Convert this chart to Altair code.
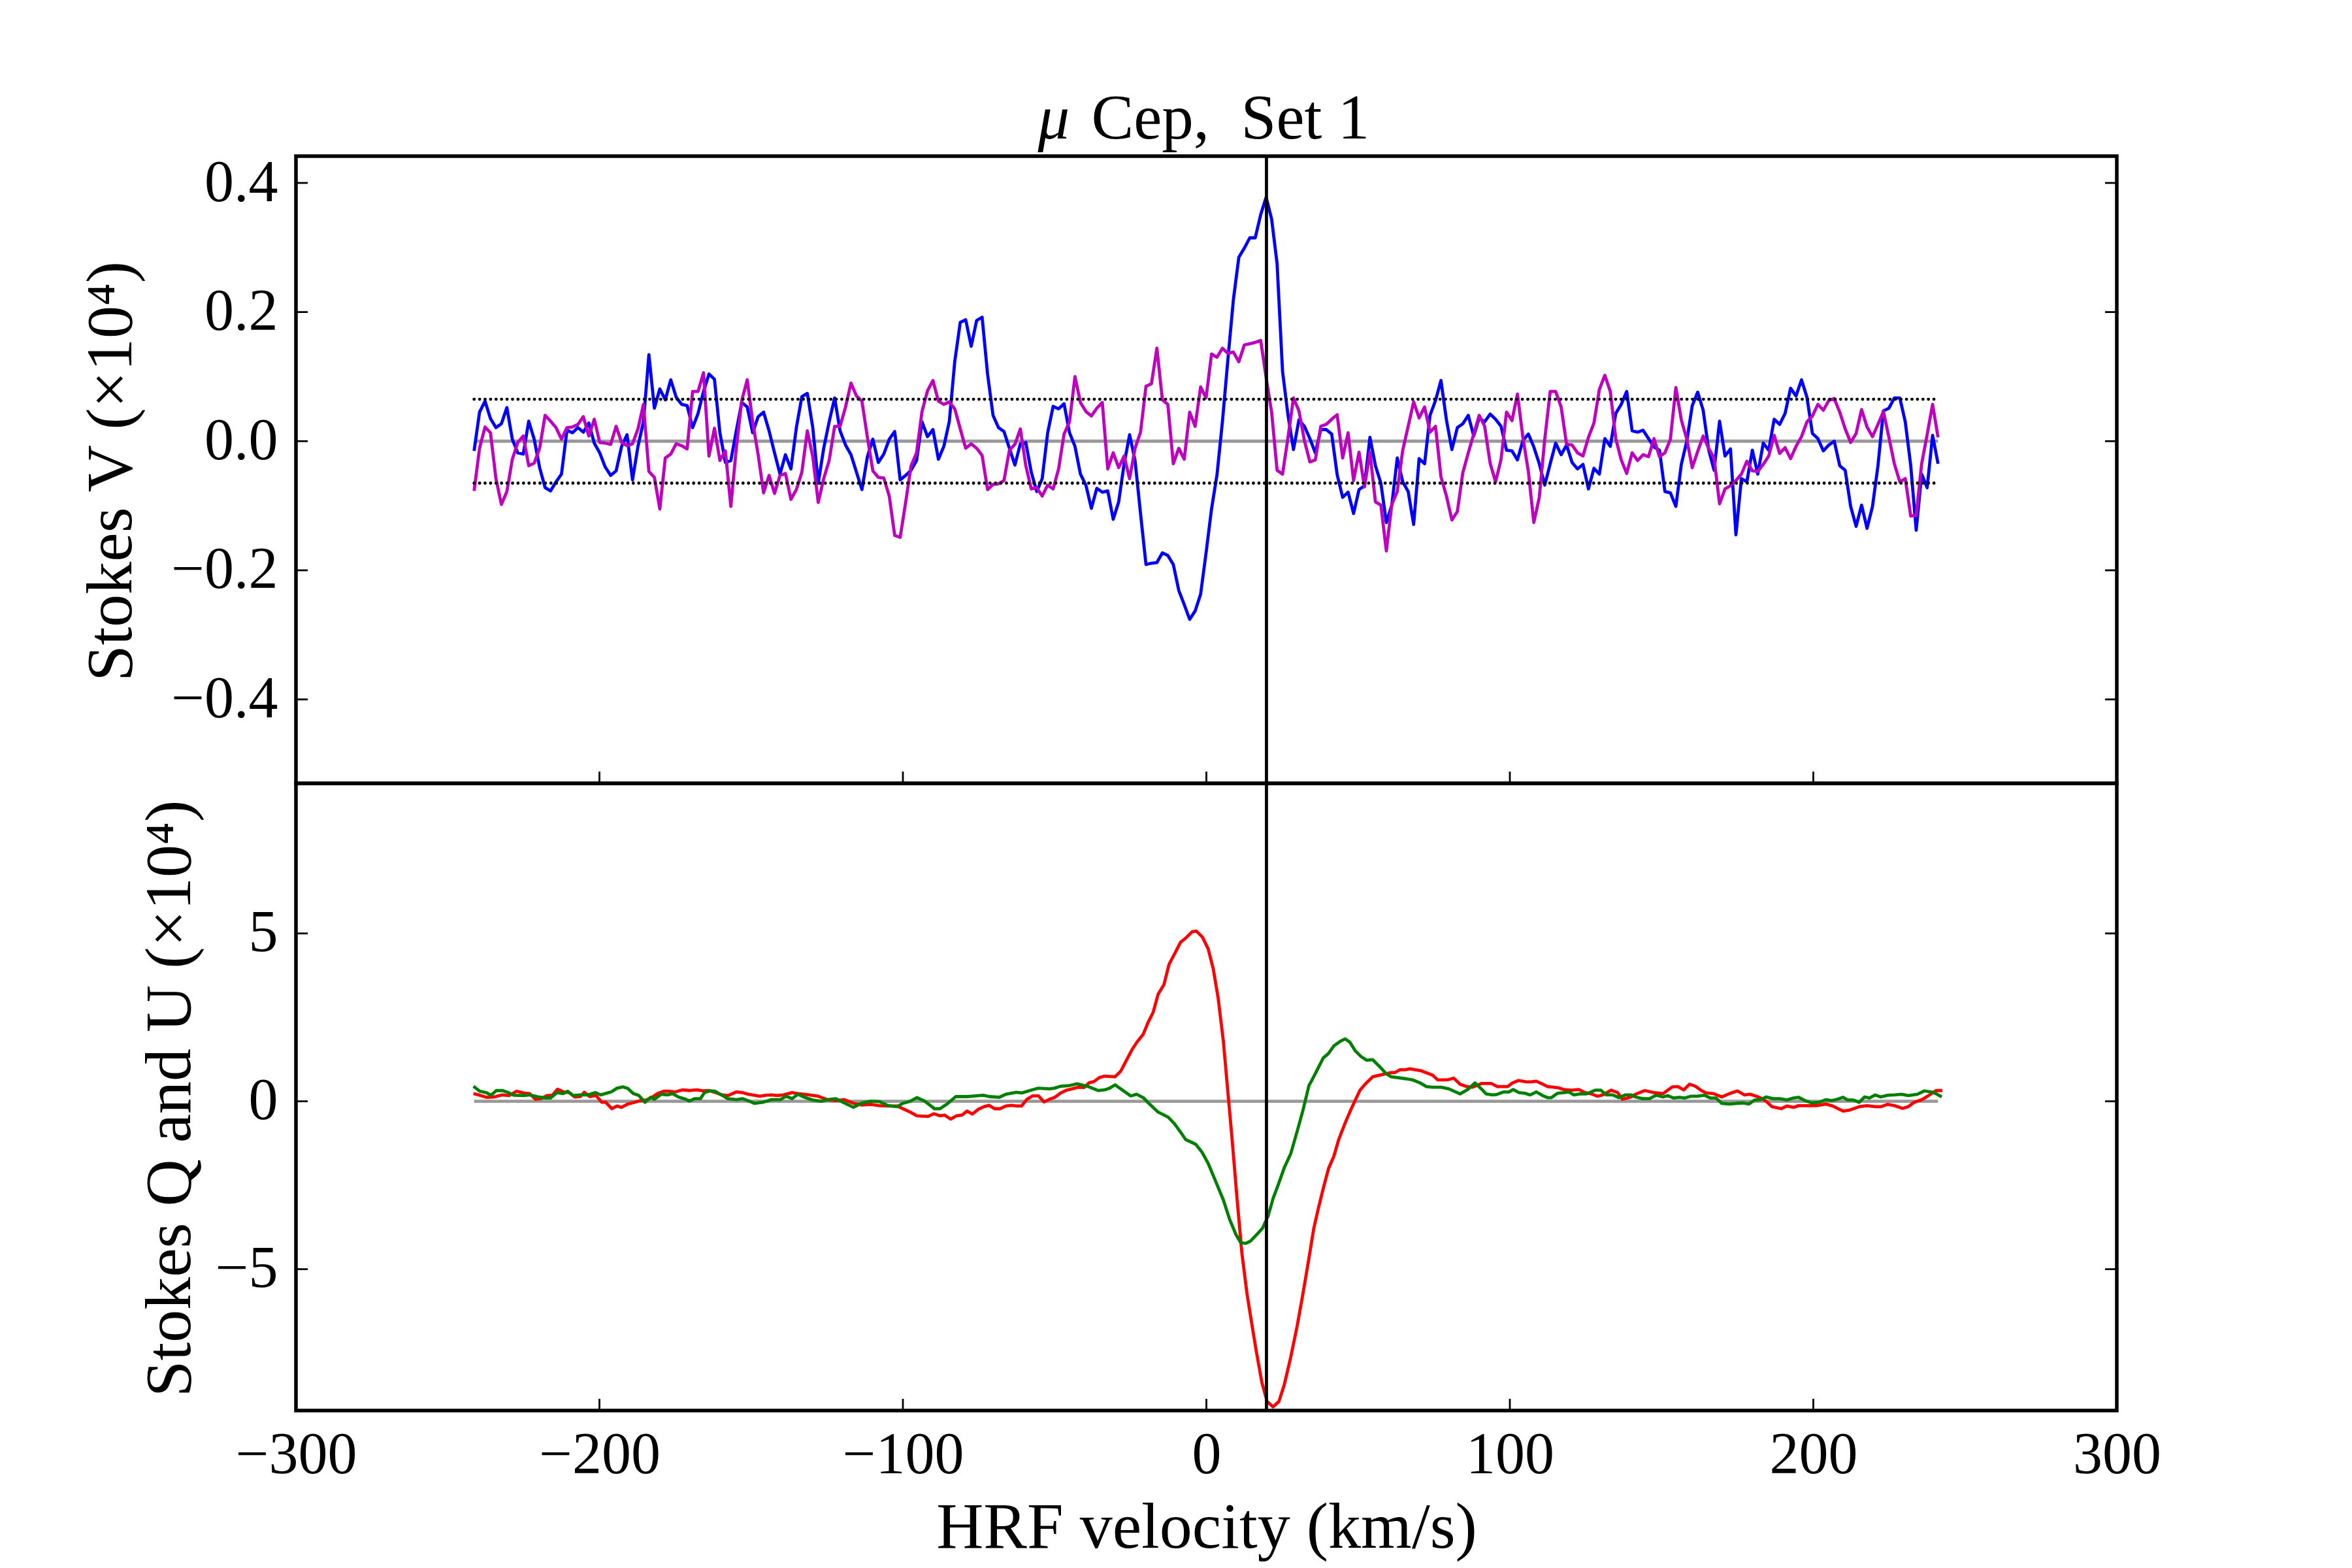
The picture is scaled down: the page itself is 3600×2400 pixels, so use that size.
import altair as alt
import numpy as np
import pandas as pd

# ---------------------------------------------------------------------------
# LSD profiles of mu Cep (Set 1).  Stokes V and the diagnostic null profile
# are sampled on the 1.8 km/s LSD velocity grid; values are in units of 1e-4.
# ---------------------------------------------------------------------------
V_START = -241.3
V_STEP = 1.8

stokes_v = [
    -0.015, 0.045, 0.062, 0.035, 0.021, 0.027, 0.052, 0.003, -0.018, -0.020,
    0.031, 0.003, -0.041, -0.072, -0.077, -0.063, -0.051, 0.017, 0.013, 0.021,
    0.014, 0.028, -0.003, -0.018, -0.040, -0.053, -0.046, -0.008, 0.010, -0.060,
    -0.008, 0.030, 0.134, 0.051, 0.081, 0.064, 0.095, 0.068, 0.057, 0.055,
    0.021, 0.043, 0.077, 0.104, 0.096, 0.013, -0.033, -0.030, 0.016, 0.060,
    0.053, 0.013, 0.038, 0.045, 0.016, -0.018, -0.051, -0.021, -0.043, 0.021,
    0.069, 0.074, 0.021, -0.065, -0.011, 0.030, 0.067, 0.016, -0.006, -0.021,
    -0.048, -0.075, -0.024, 0.003, -0.033, -0.020, 0.003, 0.015, -0.060, -0.053,
    -0.045,
    -0.030, 0.030, 0.007, 0.018, -0.028, -0.008, 0.031, 0.124, 0.184, 0.188,
    0.147, 0.187, 0.192, 0.104, 0.040, 0.021, 0.015, -0.011, -0.037, -0.004,
    -0.002, -0.048, -0.078, -0.058, 0.013, 0.054, 0.050, 0.058, 0.013, -0.008,
    -0.051, -0.068, -0.104, -0.073, -0.079, -0.077, -0.121, -0.094, -0.035, 0.010,
    -0.030, -0.112,
    -0.191, -0.189, -0.188, -0.173, -0.177, -0.191, -0.231, -0.253, -0.276, -0.263,
    -0.237, -0.173, -0.105, -0.052, 0.031, 0.127, 0.219, 0.285, 0.299, 0.315,
    0.315, 0.351, 0.378, 0.344, 0.275, 0.108, 0.040, -0.013, 0.033, 0.023,
    0.004, -0.018, 0.018, 0.018, 0.011, -0.052,
    -0.087, -0.079, -0.112, -0.075, -0.069, 0.006, -0.038, -0.065, -0.126, -0.099,
    -0.026, -0.063, -0.078, -0.129, -0.027, -0.035, 0.040, 0.063, 0.094, 0.033,
    -0.013, 0.021, 0.027, 0.040, 0.008, 0.036, 0.030, 0.042, 0.034, 0.023,
    -0.014, -0.015, -0.029, 0.001, 0.011, -0.009, -0.035, -0.068, -0.035, -0.003,
    -0.021, -0.006, -0.033, -0.043, -0.036, -0.074, -0.042, -0.051, 0.004, -0.008,
    0.043, 0.057, 0.077, 0.016, 0.014, 0.017, 0.004, -0.009, -0.014, -0.078,
    -0.080, -0.101, -0.036, 0.000, 0.055, 0.076, 0.048, -0.013, -0.045, 0.031,
    -0.023, -0.012, -0.145, -0.058, -0.063, -0.014, -0.051, -0.003,
    -0.014, 0.034, 0.026, 0.043, 0.082, 0.070, 0.095, 0.068, 0.012, 0.004,
    -0.015, -0.006, 0.000, -0.038, -0.045, -0.101, -0.132, -0.099, -0.135, -0.101,
    -0.038, 0.047, 0.051, 0.067, 0.067, 0.030, -0.038, -0.138, -0.051, -0.072,
    0.009, -0.035,
]

null_n = [
    -0.077, -0.011, 0.022, 0.013, -0.058, -0.098, -0.078, -0.028, -0.002, 0.008,
    -0.038, -0.034, -0.011, 0.040, 0.031, 0.021, 0.003, 0.021, 0.022, 0.026,
    0.038, 0.008, 0.034, -0.002, -0.003, -0.005, 0.023, -0.002, -0.007, -0.004,
    0.019, 0.057, -0.047, -0.056, -0.105, -0.026, -0.020, -0.004, -0.007, -0.012,
    0.077, 0.077, 0.106, -0.023, 0.020, -0.030, -0.015, -0.101, -0.011, 0.063,
    0.095, 0.030, -0.021, -0.080, -0.053, -0.081, -0.053, -0.050, -0.090, -0.075,
    -0.048, 0.016, -0.024, -0.095, -0.058, -0.030, 0.023, 0.023, 0.053, 0.090,
    0.070, 0.062, 0.006, -0.046, -0.056, -0.057, -0.085, -0.146, -0.149, -0.095,
    -0.038,
    -0.018, 0.046, 0.078, 0.094, 0.062, 0.057, 0.061, 0.050, 0.019, -0.011,
    -0.004, -0.011, -0.022, -0.075, -0.067, -0.066, -0.061, -0.014, -0.005, 0.019,
    -0.038, -0.074, -0.072, -0.085, -0.068, -0.074, -0.043, 0.011, 0.030, 0.100,
    0.060, 0.046, 0.039, 0.051, 0.060, -0.043, -0.018, -0.041, -0.023, -0.058,
    -0.011, 0.014,
    0.085, 0.089, 0.144, 0.064, 0.057, -0.035, -0.011, -0.028, 0.045, 0.023,
    0.084, 0.067, 0.135, 0.130, 0.144, 0.136, 0.138, 0.123, 0.149, 0.151,
    0.153, 0.156, 0.098, 0.045, -0.045, -0.051, 0.006, 0.067, 0.047, 0.001,
    -0.032, -0.029, 0.023, 0.026, 0.034, 0.041,
    -0.026, 0.013, -0.061, -0.017, -0.071, -0.017, -0.094, -0.099, -0.170, -0.098,
    -0.078, -0.014, 0.023, 0.061, 0.036, 0.053, 0.014, 0.023, -0.055, -0.085,
    -0.122, -0.109, -0.049, -0.018, 0.011, 0.040, 0.023, -0.034, -0.063, -0.028,
    0.045, 0.032, 0.073, 0.006, -0.047, -0.126, -0.087, 0.003, 0.077, 0.077,
    0.053, -0.005, -0.006, -0.018, -0.023, 0.006, 0.028, 0.080, 0.102, 0.077,
    0.004, -0.029, -0.050, -0.018, -0.030, -0.021, -0.024, 0.004, -0.024, -0.018,
    0.003, 0.083, 0.033, 0.003, -0.041, -0.016, 0.008, -0.011, -0.026, -0.097,
    -0.074, -0.069, -0.061, -0.051, -0.031, -0.046, -0.047, -0.036,
    -0.023, 0.009, -0.019, -0.010, -0.027, -0.008, 0.007, 0.030, 0.039, 0.057,
    0.048, 0.063, 0.066, 0.045, 0.019, -0.002, 0.012, 0.049, 0.022, 0.007,
    0.026, 0.046, 0.006, -0.035, -0.063, -0.058, -0.116, -0.115, -0.035, 0.010,
    0.057, 0.006,
]

# Stokes Q and U profiles: (velocity km/s, value x1e4)
stokes_q = [
    (-241.5, 0.23), (-239.4, 0.18), (-237.3, 0.12), (-234.6, 0.13), (-232.1, 0.19),
    (-229.8, 0.17), (-227.3, 0.30), (-225.0, 0.25), (-223.0, 0.23), (-221.1, 0.06),
    (-219.2, 0.08), (-217.3, 0.17), (-215.5, 0.18), (-213.8, 0.36), (-211.9, 0.28),
    (-210.0, 0.26), (-208.2, 0.13), (-206.3, 0.14), (-205.0, 0.27), (-203.2, 0.14),
    (-201.1, 0.17), (-199.2, -0.03), (-197.9, -0.03), (-195.9, -0.22), (-194.2, -0.14),
    (-192.7, -0.18), (-190.7, -0.08), (-188.4, -0.03), (-186.5, 0.02), (-184.6, 0.04),
    (-182.7, 0.12), (-180.8, 0.23), (-178.8, 0.30), (-176.9, 0.30), (-175.0, 0.28),
    (-172.7, 0.34), (-170.2, 0.32), (-168.1, 0.34), (-165.8, 0.31), (-163.8, 0.32),
    (-161.5, 0.25), (-159.6, 0.19), (-157.7, 0.17), (-154.8, 0.28), (-152.9, 0.26),
    (-151.0, 0.21), (-149.0, 0.18), (-147.1, 0.15), (-145.2, 0.18), (-143.3, 0.19),
    (-141.4, 0.17), (-139.4, 0.19), (-136.5, 0.26), (-134.6, 0.23), (-130.8, 0.19),
    (-127.9, 0.15), (-125.0, 0.05), (-122.1, 0.02), (-119.3, 0.05), (-116.3, -0.06),
    (-113.5, -0.11), (-110.6, -0.09), (-107.7, -0.13), (-104.8, -0.14), (-101.9, -0.14),
    (-100.0, -0.22), (-97.6, -0.32),
    (-95.4, -0.43), (-91.7, -0.45), (-89.8, -0.37), (-87.8, -0.43), (-86.3, -0.41),
    (-84.2, -0.53), (-82.3, -0.43), (-80.5, -0.41), (-78.9, -0.29), (-77.1, -0.38),
    (-75.2, -0.24), (-73.3, -0.16), (-71.6, -0.12), (-69.8, -0.22), (-68.0, -0.22),
    (-66.1, -0.14), (-64.2, -0.12), (-62.4, -0.14), (-60.9, -0.14), (-59.1, 0.06),
    (-57.3, 0.16), (-55.3, 0.16), (-53.5, -0.02), (-51.7, 0.06), (-49.9, 0.12),
    (-48.0, 0.25), (-46.1, 0.33), (-44.3, 0.37), (-42.2, 0.42), (-40.3, 0.41),
    (-38.7, 0.55), (-37.0, 0.59), (-35.2, 0.71), (-33.6, 0.75), (-30.1, 0.73),
    (-28.2, 0.90), (-26.6, 1.18), (-24.5, 1.54), (-22.9, 1.76), (-20.8, 2.00),
    (-19.2, 2.35), (-17.5, 2.66), (-15.9, 3.19), (-14.0, 3.47), (-12.3, 4.08),
    (-10.5, 4.39), (-8.5, 4.74), (-6.8, 4.86), (-4.7, 5.05), (-3.3, 5.07),
    (-1.3, 4.89), (0.6, 4.54), (2.3, 3.93), (3.9, 3.06), (5.6, 1.79),
    (7.2, 0.16), (8.6, -1.26), (10.1, -2.89), (11.7, -4.52), (13.4, -5.74),
    (15.0, -6.65), (16.5, -7.47), (18.3, -8.38), (20.0, -8.94), (22.0, -9.10),
    (23.9, -8.94), (25.7, -8.43), (27.8, -7.62), (29.9, -6.70), (31.9, -5.69),
    (33.8, -4.67),
    (35.4, -3.78), (37.0, -3.15), (38.7, -2.53), (40.3, -1.99), (42.0, -1.64),
    (43.6, -1.14), (45.7, -0.65), (47.8, -0.21), (50.6, 0.33), (52.3, 0.51),
    (54.8, 0.73), (57.6, 0.79), (60.5, 0.85), (62.2, 0.86), (63.8, 0.94),
    (65.5, 0.94), (67.1, 0.97), (68.8, 0.94), (70.8, 0.91), (72.5, 0.85),
    (74.5, 0.78), (76.2, 0.64), (79.5, 0.64), (81.5, 0.69), (83.6, 0.51),
    (85.7, 0.44), (87.7, 0.42), (90.6, 0.53), (93.9, 0.53), (95.9, 0.44),
    (99.3, 0.44), (100.9, 0.55), (102.9, 0.62), (105.4, 0.58), (107.1, 0.58),
    (108.7, 0.60), (110.4, 0.53), (112.4, 0.44), (114.5, 0.42), (116.1, 0.40),
    (117.8, 0.35), (120.3, 0.33), (122.7, 0.35), (124.8, 0.26), (126.9, 0.22),
    (128.9, 0.15), (130.6, 0.19), (133.4, 0.33), (135.5, 0.26), (137.1, 0.06),
    (140.0, 0.13),
    (141.4, 0.21), (144.5, 0.32), (147.5, 0.26), (150.5, 0.23), (153.5, 0.43),
    (155.4, 0.44), (157.3, 0.34), (159.2, 0.51), (161.1, 0.45), (163.3, 0.31),
    (164.8, 0.25), (167.1, 0.23), (169.8, 0.13), (172.4, 0.23), (175.0, 0.31),
    (177.3, 0.19), (179.2, 0.21), (182.2, 0.12), (184.5, 0.00), (186.4, -0.16),
    (189.4, -0.22), (191.3, -0.14), (193.5, -0.18), (195.1, -0.13), (198.1, -0.13),
    (201.1, -0.13), (204.1, -0.08), (206.4, -0.14), (209.8, -0.29), (212.0, -0.26),
    (215.1, -0.16), (217.7, -0.13), (220.4, -0.16), (222.2, -0.16), (224.5, -0.09),
    (226.8, -0.13), (229.4, -0.21), (231.3, -0.16), (233.2, -0.03), (235.8, 0.05),
    (238.1, 0.18), (240.4, 0.32), (242.5, 0.32),
]

stokes_u = [
    (-241.5, 0.45), (-239.4, 0.30), (-237.3, 0.26), (-235.7, 0.18), (-234.0, 0.32),
    (-231.9, 0.32), (-230.0, 0.26), (-228.2, 0.18), (-225.0, 0.17), (-223.0, 0.19),
    (-220.1, 0.13), (-217.8, 0.10), (-216.1, 0.10), (-214.0, 0.26), (-211.9, 0.23),
    (-210.5, 0.30), (-208.6, 0.17), (-206.5, 0.19), (-203.8, 0.19), (-201.3, 0.26),
    (-199.6, 0.19), (-198.1, 0.23), (-196.1, 0.28), (-194.2, 0.39), (-192.3, 0.43),
    (-190.6, 0.38), (-188.8, 0.23), (-187.1, 0.18), (-185.0, -0.03), (-183.1, 0.12),
    (-181.9, 0.06), (-179.6, 0.21), (-177.5, 0.19), (-175.9, 0.23), (-174.0, 0.13),
    (-171.5, 0.06), (-170.4, 0.01), (-168.5, 0.08), (-166.7, 0.08), (-165.4, 0.26),
    (-163.5, 0.31), (-161.9, 0.30), (-159.6, 0.18), (-157.7, 0.08), (-154.8, 0.05),
    (-152.9, 0.08), (-151.0, 0.02), (-149.0, -0.06), (-146.2, -0.03), (-143.3, 0.05),
    (-140.4, 0.05), (-138.5, 0.15), (-136.5, 0.08), (-134.6, 0.21), (-132.7, 0.13),
    (-129.8, 0.04), (-126.9, 0.00), (-125.0, 0.05), (-122.1, 0.08), (-120.2, -0.01),
    (-116.3, -0.18), (-113.5, -0.05), (-110.6, 0.00), (-107.7, -0.01), (-104.8, -0.13),
    (-101.9, -0.16), (-100.0, -0.06), (-97.6, 0.00),
    (-95.4, 0.11), (-92.9, 0.01), (-89.6, -0.22), (-87.8, -0.22), (-85.6, -0.09),
    (-82.6, 0.14), (-78.9, 0.14), (-73.5, 0.18), (-71.5, 0.14), (-68.2, 0.12),
    (-66.1, 0.21), (-62.6, 0.27), (-60.8, 0.25), (-57.5, 0.34), (-55.4, 0.39),
    (-51.7, 0.37), (-50.1, 0.39), (-48.0, 0.45), (-45.1, 0.47), (-42.6, 0.52),
    (-39.3, 0.45), (-35.6, 0.32), (-33.6, 0.34), (-31.9, 0.39), (-30.1, 0.49),
    (-28.2, 0.37), (-24.9, 0.16), (-23.0, 0.21), (-20.8, 0.11), (-19.2, -0.04),
    (-15.9, -0.32), (-12.6, -0.47), (-10.5, -0.67), (-8.5, -0.92), (-6.8, -1.14),
    (-3.5, -1.28), (-1.4, -1.52), (0.6, -1.85), (3.5, -2.48), (5.6, -2.94),
    (7.6, -3.50), (9.7, -3.96), (11.3, -4.21), (13.0, -4.23), (14.6, -4.16),
    (16.7, -3.96), (18.5, -3.78), (20.4, -3.40), (22.0, -2.89), (23.7, -2.48),
    (25.7, -1.97), (27.8, -1.56), (29.9, -0.90), (31.9, -0.24), (33.8, 0.47),
    (34.6, 0.60), (36.6, 0.95), (38.5, 1.29), (40.2, 1.42), (42.0, 1.65),
    (44.0, 1.78), (45.7, 1.86), (47.3, 1.76), (49.0, 1.51), (51.0, 1.33),
    (52.9, 1.22), (54.8, 1.24), (56.8, 1.06), (59.3, 0.82), (60.9, 0.73),
    (65.9, 0.67), (67.9, 0.64), (70.4, 0.55), (72.5, 0.44), (74.5, 0.42),
    (77.4, 0.42), (79.9, 0.37), (83.6, 0.22), (86.1, 0.35), (88.5, 0.55),
    (90.6, 0.37), (92.2, 0.22), (94.3, 0.19), (95.5, 0.20), (98.0, 0.28),
    (99.7, 0.28), (101.1, 0.35), (103.0, 0.26), (105.0, 0.24), (106.7, 0.19),
    (108.7, 0.28), (110.8, 0.17), (112.4, 0.11), (113.7, 0.11), (115.7, 0.24),
    (117.8, 0.26), (119.4, 0.28), (121.1, 0.19), (123.1, 0.22), (125.2, 0.22),
    (128.1, 0.33), (130.0, 0.33), (131.8, 0.19), (133.9, 0.19), (135.9, 0.11),
    (138.0, 0.19), (140.0, 0.19),
    (141.4, 0.13), (143.7, 0.08), (146.0, 0.08), (148.2, 0.18), (150.5, 0.13),
    (152.0, 0.17), (153.9, 0.10), (155.8, 0.12), (157.7, 0.10), (159.6, 0.15),
    (161.8, 0.15), (164.1, 0.18), (166.0, 0.10), (167.9, 0.10), (169.8, -0.06),
    (172.4, -0.08), (174.7, -0.06), (176.9, -0.05), (178.8, -0.08), (180.7, 0.04),
    (182.6, 0.05), (184.5, 0.13), (186.7, 0.08), (189.0, 0.08), (191.3, 0.04),
    (193.5, 0.10), (195.1, 0.12), (197.3, 0.02), (199.6, -0.05), (201.9, -0.03),
    (204.1, 0.05), (206.0, 0.02), (207.9, 0.06), (209.8, 0.12), (211.3, 0.04),
    (213.2, 0.04), (215.1, -0.03), (216.9, 0.13), (218.5, 0.10), (220.4, 0.19),
    (222.2, 0.13), (224.5, 0.18), (226.8, 0.19), (229.0, 0.21), (231.3, 0.17),
    (234.3, 0.21), (236.6, 0.31), (238.8, 0.28), (240.4, 0.23), (242.3, 0.13),
]

RADIAL_VELOCITY = 19.8      # stellar radial velocity, km/s
V_NOISE = 0.065             # +/- 1 sigma level of the null profile

x_ticks = [-300, -200, -100, 0, 100, 200, 300]
v_ticks = [-0.4, -0.2, 0.0, 0.2, 0.4]
qu_ticks = [-5, 0, 5]

TITLE_STAR = "μ"
TITLE_REST = "Cep,\u00a0 Set 1"

# ---------------------------------------------------------------------------
if len(stokes_v) != len(null_n):
    raise ValueError("V and N profiles must share the velocity grid")

velocity = np.round(V_START + V_STEP * np.arange(len(stokes_v)), 2)
v_lo, v_hi = float(velocity[0]), float(velocity[-1])

df_v = pd.DataFrame({"v": velocity, "val": stokes_v})
df_n = pd.DataFrame({"v": velocity, "val": null_n})
df_q = pd.DataFrame(stokes_q, columns=["v", "val"])
df_u = pd.DataFrame(stokes_u, columns=["v", "val"])

W, H = 2787, 960
TICK = 18
FONT = "Liberation Serif"
LINE_W = 4.8

x_scale = alt.Scale(domain=[-300, 300], nice=False, zero=False)
yv_scale = alt.Scale(domain=[-0.530, 0.4415], nice=False, zero=False)
yq_scale = alt.Scale(domain=[-9.21, 9.47], nice=False, zero=False)

x_axis_bottom = alt.Axis(
    values=x_ticks, format="d", labelPadding=24,
    title="HRF velocity (km/s)", titleX=W / 2, titleY=209,
    titleBaseline="alphabetic", titleAlign="center",
)


def y_axis(values, fmt, title, title_x):
    return alt.Axis(
        values=values, format=fmt, labelPadding=28, title=title,
        titleX=title_x, titleY=482, titleAngle=270,
        titleBaseline="alphabetic", titleAlign="center",
    )


def panel(x_axis, y_scale, y_ax, yticks, curves, extra_rules, header=()):
    X = alt.X("v:Q", scale=x_scale, axis=x_axis)
    Y = alt.Y("val:Q", scale=y_scale, axis=y_ax)

    zero = alt.Chart(pd.DataFrame({"v": [v_lo], "v2": [v_hi], "val": [0.0]})).mark_rule(
        color="#999999", strokeWidth=4.8
    ).encode(x=X, x2="v2:Q", y=Y)

    layers = [zero]
    for df, color in curves:
        layers.append(
            alt.Chart(df).mark_line(color=color, strokeWidth=LINE_W, strokeJoin="round").encode(
                x=X, y=Y, order="v:Q"
            )
        )
    layers.extend(extra_rules(X, Y))

    rv = alt.Chart(pd.DataFrame({"v": [RADIAL_VELOCITY]})).mark_rule(
        color="black", strokeWidth=4.8
    ).encode(x=X)
    layers.append(rv)

    # inward tick marks on the bottom, left and right edges
    xt = alt.Chart(pd.DataFrame({"v": x_ticks})).mark_rule(color="black", strokeWidth=2.8).encode(
        x=X, y=alt.value(H), y2=alt.value(H - TICK)
    )
    ytl = alt.Chart(pd.DataFrame({"val": yticks})).mark_rule(color="black", strokeWidth=2.8).encode(
        y=Y, x=alt.value(0), x2=alt.value(TICK)
    )
    ytr = alt.Chart(pd.DataFrame({"val": yticks})).mark_rule(color="black", strokeWidth=2.8).encode(
        y=Y, x=alt.value(W - TICK), x2=alt.value(W)
    )
    layers += [xt, ytl, ytr]
    layers += list(header)
    return alt.layer(*layers).properties(width=W, height=H)


def noise_rules(X, Y):
    d = pd.DataFrame({"v": [v_lo, v_lo], "v2": [v_hi, v_hi], "val": [V_NOISE, -V_NOISE]})
    return [
        alt.Chart(d).mark_rule(
            color="black", strokeWidth=4.8, strokeDash=[0.1, 8.3], strokeCap="round"
        ).encode(x=X, x2="v2:Q", y=Y)
    ]


# panel heading: italic star symbol followed by upright text, centred over the plot
heading = [
    alt.Chart(pd.DataFrame({"t": [TITLE_STAR]})).mark_text(
        font=FONT, fontSize=97, fontStyle="italic", align="left", baseline="alphabetic",
        color="black",
    ).encode(text="t:N", x=alt.value(W / 2 - 258), y=alt.value(-27)),
    alt.Chart(pd.DataFrame({"t": [TITLE_REST]})).mark_text(
        font=FONT, fontSize=97, align="left", baseline="alphabetic", color="black",
    ).encode(text="t:N", x=alt.value(W / 2 - 176), y=alt.value(-27)),
]

top = panel(
    None, yv_scale,
    y_axis(v_ticks, ".1f", "Stokes V (×10⁴)", -253),
    v_ticks,
    [(df_v, "#0000ff"), (df_n, "#bf00bf")],
    noise_rules,
    heading,
)

bottom = panel(
    x_axis_bottom, yq_scale,
    y_axis(qu_ticks, "d", "Stokes Q and U (×10⁴)", -163),
    qu_ticks,
    [(df_q, "#ff0000"), (df_u, "#008000")],
    lambda X, Y: [],
)

chart = (
    alt.vconcat(top, bottom, spacing=0, bounds="flush")
    .properties(padding={"left": 117, "top": 131, "right": 40, "bottom": 40}, background="white")
    .configure_view(stroke="black", strokeWidth=5.5)
    .configure_axis(
        labelFont=FONT, titleFont=FONT, labelFontSize=90, titleFontSize=100,
        titleFontWeight="normal", labelColor="black", titleColor="black",
        grid=False, ticks=False, domain=False, labelFlush=False, labelOverlap=False,
        labelLimit=600,
    )
)

chart.save("out.html", embed_options={"renderer": "svg", "actions": False})
